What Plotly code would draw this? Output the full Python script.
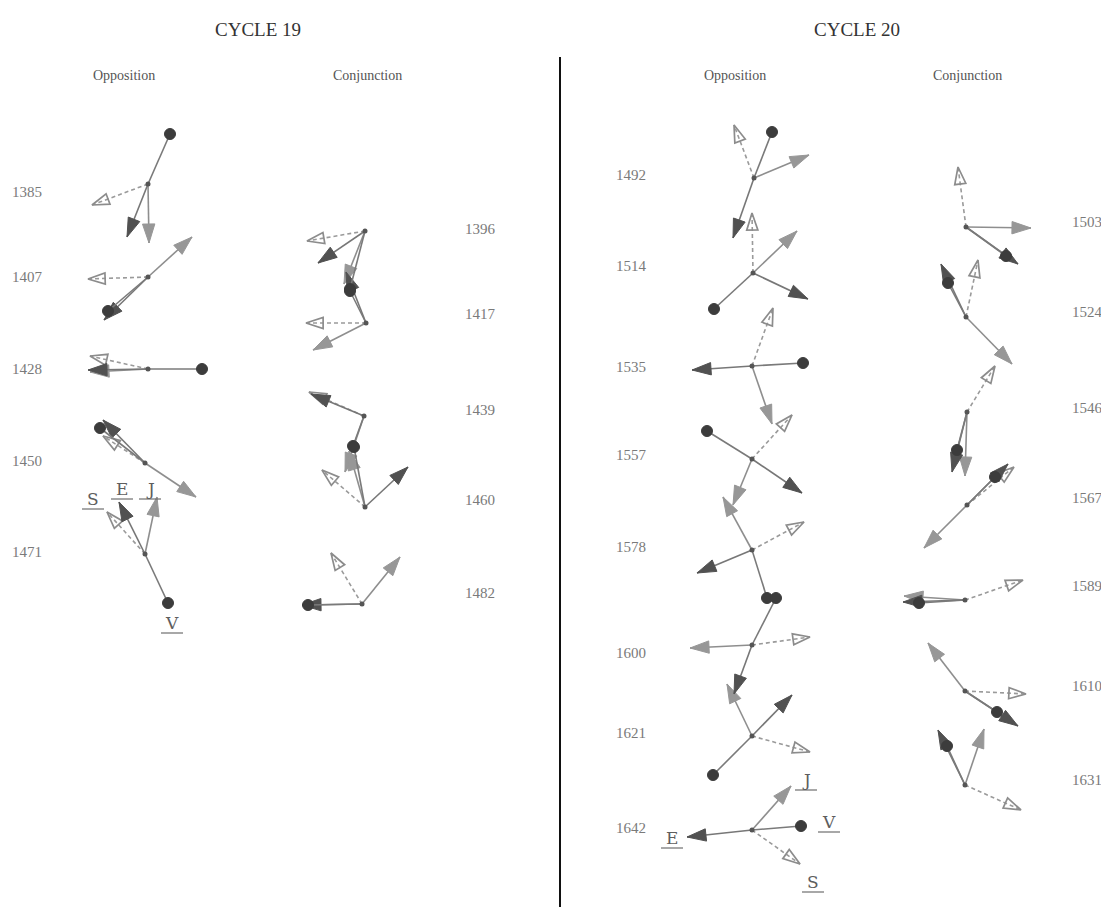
import math
import plotly.graph_objects as go

# ---------------- data ----------------
years = [1385, 1407, 1428, 1450, 1471,
         1396, 1417, 1439, 1460, 1482,
         1492, 1514, 1535, 1557, 1578, 1600, 1621, 1642,
         1503, 1524, 1546, 1567, 1589, 1610, 1631]
panel = ["19O"] * 5 + ["19C"] * 5 + ["20O"] * 8 + ["20C"] * 7

# diagram centres
center_x = [148, 148, 148, 145, 145,
            365, 366, 364, 365, 362,
            754, 753, 752, 752, 752, 752, 752, 752,
            966, 966, 967, 967, 965, 965, 965]
center_y = [184, 277, 369, 463, 554,
            231, 323, 416, 507, 604,
            178, 273, 366, 459, 550, 645, 736, 830,
            227, 317, 412, 505, 600, 691, 785]
# year label vertical position
label_y = [192, 277, 369, 461, 552,
           229, 314, 410, 500, 593,
           175, 266, 367, 455, 547, 653, 733, 828,
           222, 312, 408, 498, 586, 686, 780]

# vector components (right, down) for the four bodies
V_dx = [22, -40, 54, -45, 23, -15, -16, -11, -11, -54, 18, -39, 51, -45, 15, 24, -39, 49, 40, -18, -10, 28, -46, 32, -18]
V_dy = [-50, 34, 0, -35, 49, 58, -32, 30, -60, 1, -46, 36, -3, -28, 48, -47, 39, -4, 29, -34, 38, -28, 3, 21, -39]
E_dx = [-21, -44, -60, -42, -26, -47, -20, -53, 43, -60, -21, 55, -60, 50, -55, -18, 40, -65, 52, -25, -15, 41, -62, 53, -27]
E_dy = [53, 43, 1, -43, -52, 32, -51, -22, -40, 1, 60, 26, 4, 34, 23, 49, -41, 7, 37, -53, 60, -41, 2, 35, -55]
J_dx = [1, 44, -58, 51, 12, -21, -53, -19, -16, 38, 55, 44, 20, -19, -29, -62, -25, 39, 65, 46, -2, -43, -61, -37, 19]
J_dy = [59, -40, 3, 34, -57, 53, 27, 56, -56, -47, -23, -42, 58, 46, -53, 3, -52, -44, 1, 47, 64, 43, -4, -48, -56]
S_dx = [-56, -60, -58, -42, -38, -58, -60, -55, -43, -31, -20, -1, 21, 40, 52, 58, 58, 48, -8, 12, 28, 47, 58, 61, 56]
S_dy = [21, 2, -13, -27, -42, 10, 0, -24, -37, -51, -53, -60, -58, -44, -28, -8, 16, 34, -60, -57, -46, -38, -20, 3, 25]

# text
cycle_titles = ["CYCLE 19", "CYCLE 20"]
column_titles = ["Opposition", "Conjunction", "Opposition", "Conjunction"]
body_labels = ["S", "E", "J", "V", "J", "V", "E", "S"]

# ---------------- layout constants ----------------
W, H = 1109, 907
OFF = 8  # page body margin compensation
label_x = {"19O": 27, "19C": 480, "20O": 631, "20C": 1087}
title_pos = [(258, 29), (857, 29)]
col_pos = [(124, 75), (367, 75), (735, 75), (967, 75)]
body_label_pos = [(93, 499), (122, 489), (150, 489), (172, 623),
                  (806, 780), (829, 822), (672, 838), (813, 882)]

fig = go.Figure()


def heading(dx, dy):
    return math.degrees(math.atan2(dx, -dy))


def add_body(dxs, dys, line_color, line_dash, symbol, mcolor, msize, open_=False):
    lx, ly = [], []
    mx, my, ang = [], [], []
    for cx, cy, dx, dy in zip(center_x, center_y, dxs, dys):
        lx += [cx, cx + dx, None]
        ly += [cy, cy + dy, None]
        mx.append(cx + dx)
        my.append(cy + dy)
        ang.append(heading(dx, dy))
    fig.add_trace(go.Scatter(x=lx, y=ly, mode="lines",
                             line=dict(color=line_color, width=1.6, dash=line_dash),
                             hoverinfo="skip"))
    marker = dict(symbol=symbol, size=msize, angle=ang, color=mcolor)
    if open_:
        marker.update(line=dict(color=mcolor, width=1.7))
    else:
        marker.update(line=dict(color=mcolor, width=1))
    fig.add_trace(go.Scatter(x=mx, y=my, mode="markers", marker=marker, hoverinfo="skip"))


add_body(S_dx, S_dy, "#9a9a9a", "4px,3px", "arrow-open", "#8c8c8c", 18, open_=True)
add_body(J_dx, J_dy, "#8e8e8e", "solid", "arrow", "#979797", 20)
add_body(E_dx, E_dy, "#777777", "solid", "arrow", "#515151", 20)
add_body(V_dx, V_dy, "#7a7a7a", "solid", "circle", "#3c3c3c", 11)

fig.add_trace(go.Scatter(x=center_x, y=center_y, mode="markers",
                         marker=dict(symbol="circle", size=5, color="#555555"),
                         hoverinfo="skip"))

ann = []
for yr, p, ly in zip(years, panel, label_y):
    ann.append(dict(x=label_x[p], y=ly, text=str(yr), showarrow=False,
                    xanchor="center", yanchor="middle",
                    font=dict(family="Liberation Serif", size=15, color="#7a7a7a")))
for t, (x, y) in zip(cycle_titles, title_pos):
    ann.append(dict(x=x, y=y, text=t, showarrow=False, xanchor="center", yanchor="middle",
                    font=dict(family="Liberation Serif", size=19, color="#333333")))
for t, (x, y) in zip(column_titles, col_pos):
    ann.append(dict(x=x, y=y, text=t, showarrow=False, xanchor="center", yanchor="middle",
                    font=dict(family="Liberation Serif", size=14, color="#555555")))
shapes = [dict(type="line", x0=560, x1=560, y0=57, y1=H + OFF, xref="x", yref="y",
               line=dict(color="#111111", width=2))]
for t, (x, y) in zip(body_labels, body_label_pos):
    ann.append(dict(x=x, y=y, text=t, showarrow=False,
                    xanchor="center", yanchor="middle",
                    font=dict(family="DejaVu Serif", size=17, color="#5e5e5e")))
    shapes.append(dict(type="line", x0=x - 11, x1=x + 11, y0=y + 10, y1=y + 10,
                       xref="x", yref="y", line=dict(color="#6e6e6e", width=1.2)))

fig.update_layout(
    width=W, height=H, margin=dict(l=0, r=0, t=0, b=0),
    paper_bgcolor="white", plot_bgcolor="white", showlegend=False,
    xaxis=dict(range=[OFF, W + OFF], visible=False, fixedrange=True),
    yaxis=dict(range=[H + OFF, OFF], visible=False, fixedrange=True),
    annotations=ann,
    shapes=shapes,
)

fig.write_html("out.html")
